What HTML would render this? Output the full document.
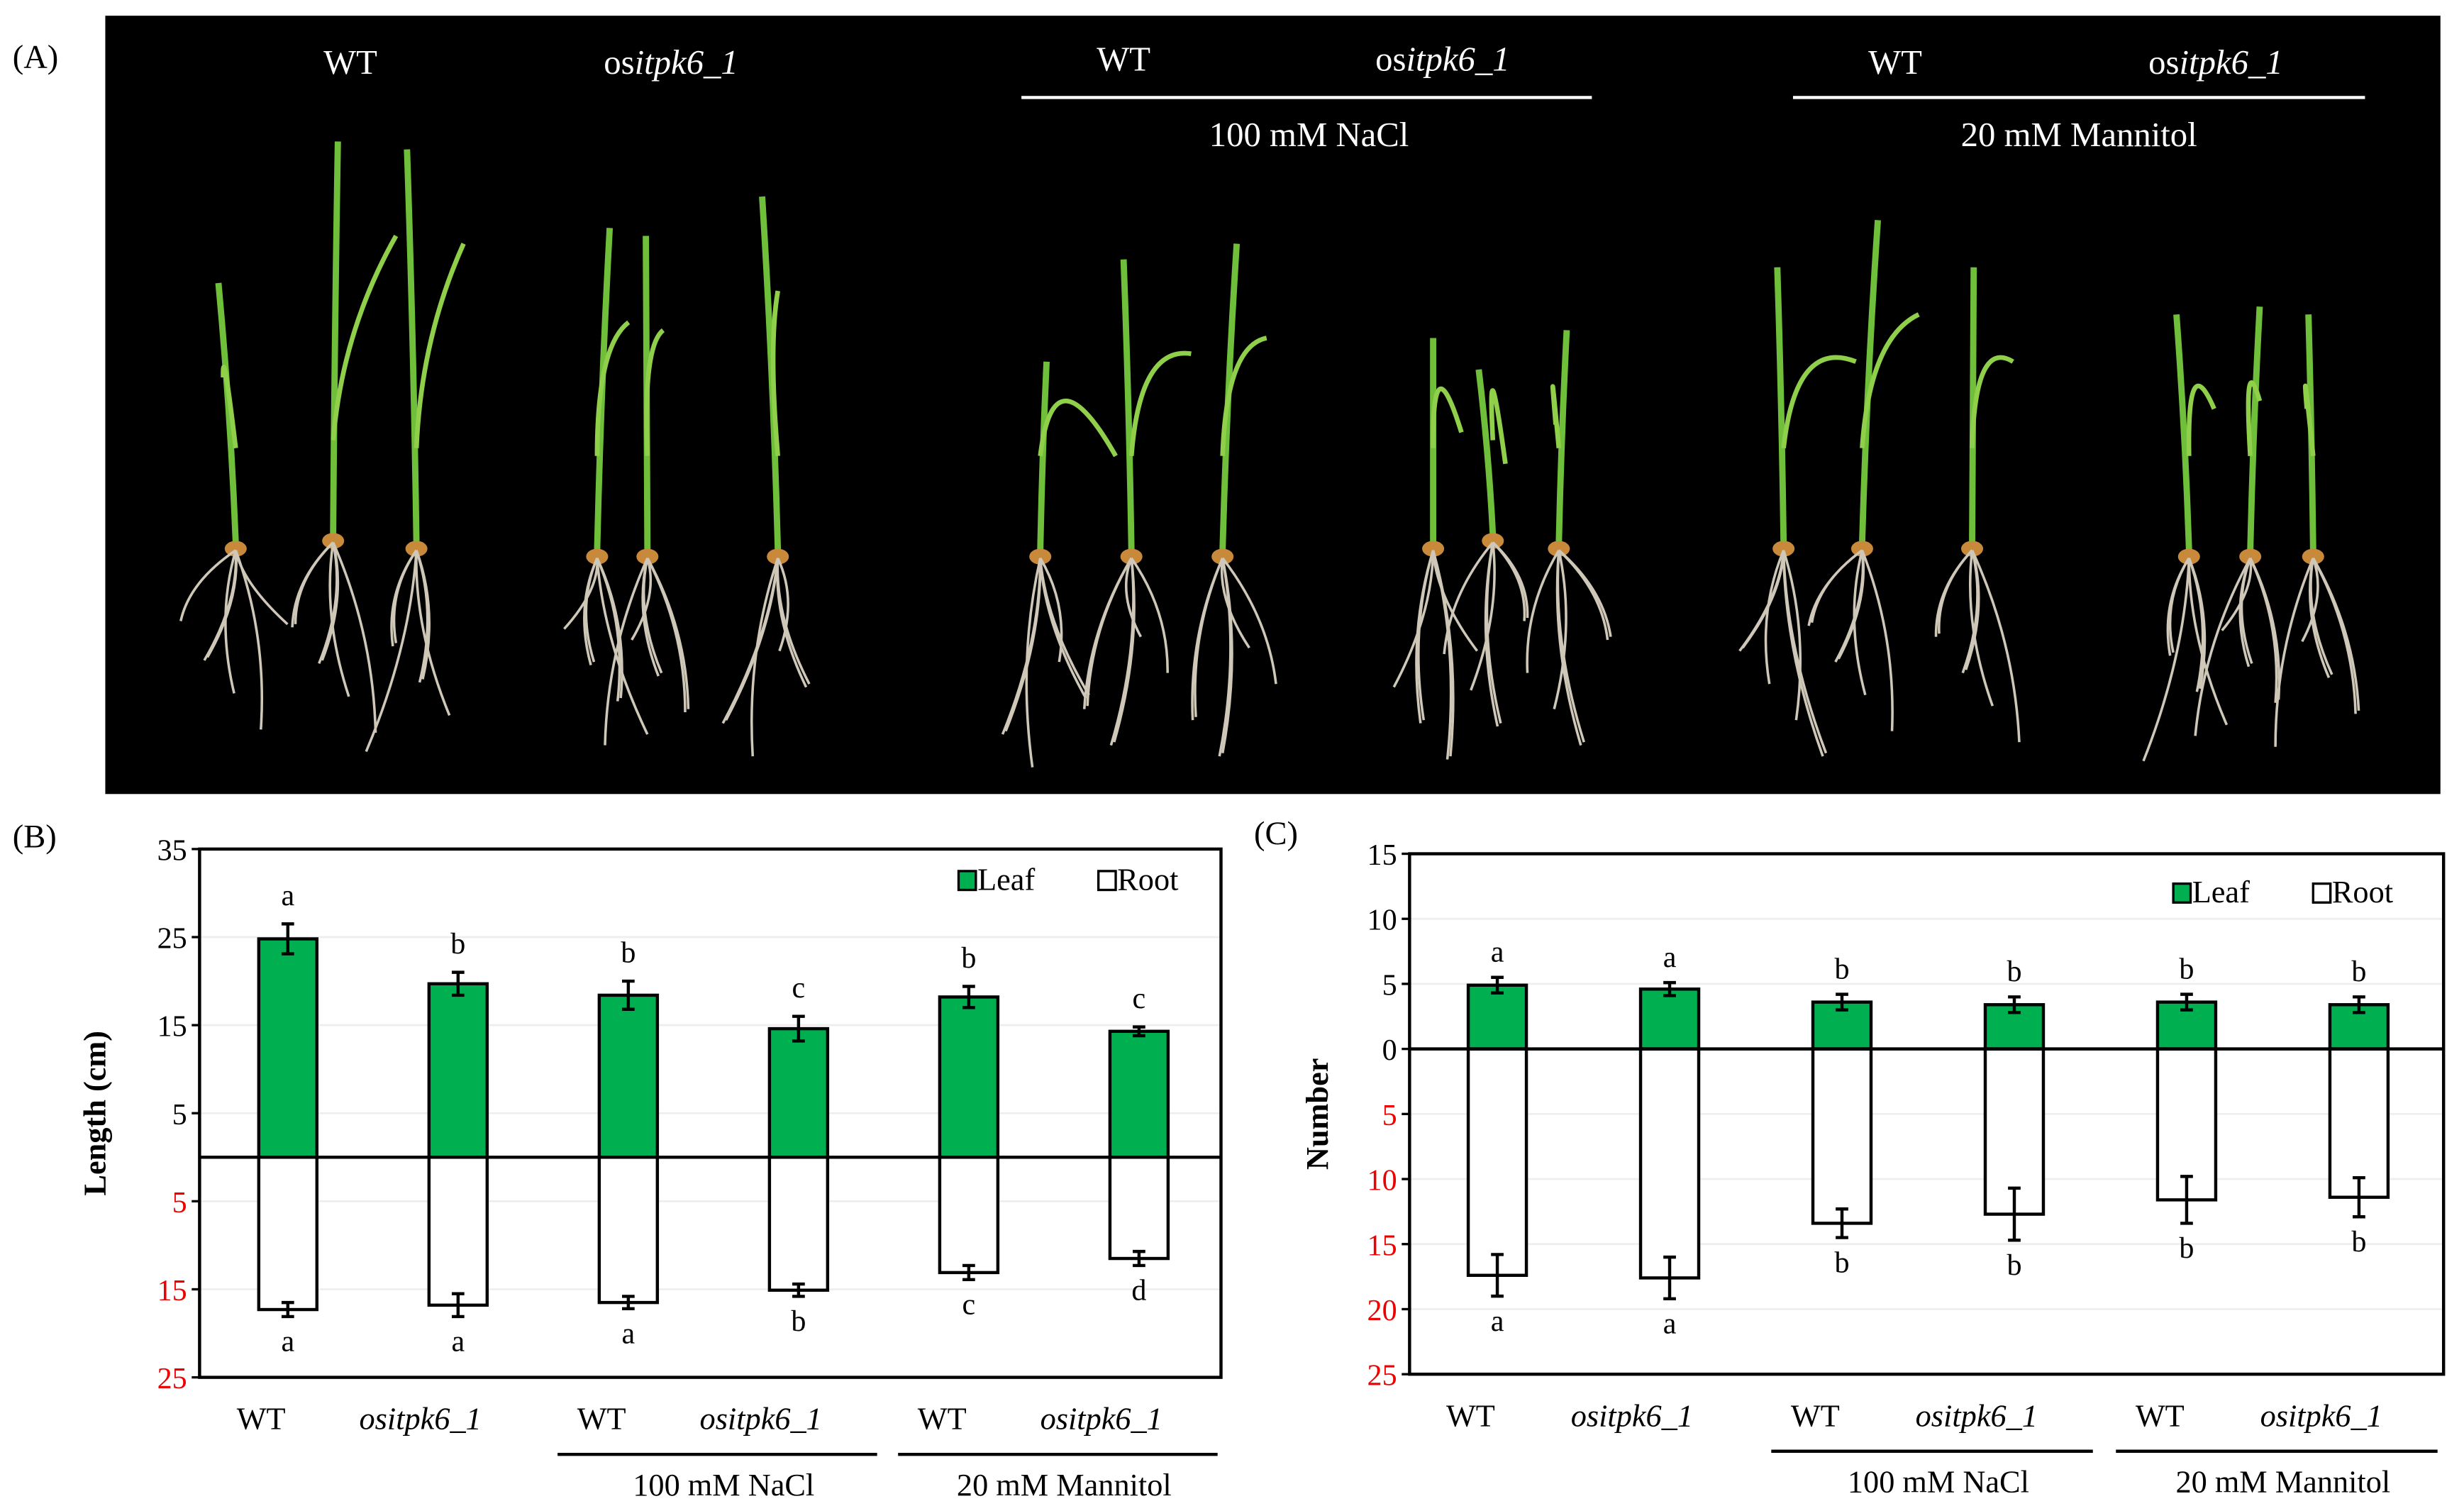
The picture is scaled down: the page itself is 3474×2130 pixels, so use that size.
<!DOCTYPE html>
<html><head><meta charset="utf-8"><style>
html,body{margin:0;padding:0;background:#fff}
svg{display:block;font-family:"Liberation Serif",serif}
svg text{font-family:"Liberation Serif",serif}
</style></head><body>
<svg id="fig" width="3474" height="2130" viewBox="0 0 1568 961" preserveAspectRatio="none" xmlns="http://www.w3.org/2000/svg" font-family="Liberation Serif, serif">
<rect width="1568" height="961" fill="#fff"/>
<g id="panelA">
<text x="8" y="43" font-size="21">(A)</text>
<rect x="67" y="10" width="1486" height="495" fill="#000"/>
<g id="plants"></g>
<g fill="#fff" font-size="22" text-anchor="middle">
<text x="223" y="47">WT</text>
<text x="427" y="47">os<tspan font-style="italic">itpk6_1</tspan></text>
<text x="715" y="45">WT</text>
<text x="918" y="45">os<tspan font-style="italic">itpk6_1</tspan></text>
<text x="833" y="93">100 mM NaCl</text>
<text x="1206" y="47">WT</text>
<text x="1410" y="47">os<tspan font-style="italic">itpk6_1</tspan></text>
<text x="1323" y="93">20 mM Mannitol</text>
</g>
<line x1="650" y1="62" x2="1013" y2="62" stroke="#fff" stroke-width="2"/>
<line x1="1141" y1="62" x2="1505" y2="62" stroke="#fff" stroke-width="2"/>
</g>
<g id="chartB"></g>
<g id="chartC"></g>
</svg>
<script>
// ---- Panel B data (Length, cm) ----
const categoriesB = ["WT","ositpk6_1","WT","ositpk6_1","WT","ositpk6_1"];
const leafB = [24.8, 19.7, 18.4, 14.6, 18.2, 14.3];
const leafErrB = [1.7, 1.3, 1.6, 1.4, 1.2, 0.5];
const rootB = [17.3, 16.8, 16.5, 15.1, 13.1, 11.5];
const rootErrB = [0.8, 1.3, 0.7, 0.7, 0.8, 0.8];
const leafLetB = ["a","b","b","c","b","c"];
const rootLetB = ["a","a","a","b","c","d"];
const ticksUpB = [35, 25, 15, 5];
const ticksDownB = [5, 15, 25];
// ---- Panel C data (Number) ----
const categoriesC = ["WT","ositpk6_1","WT","ositpk6_1","WT","ositpk6_1"];
const leafC = [4.9, 4.6, 3.6, 3.4, 3.6, 3.4];
const leafErrC = [0.6, 0.5, 0.6, 0.6, 0.6, 0.6];
const rootC = [17.4, 17.6, 13.4, 12.7, 11.6, 11.4];
const rootErrC = [1.6, 1.6, 1.1, 2.0, 1.8, 1.5];
const leafLetC = ["a","a","b","b","b","b"];
const rootLetC = ["a","a","b","b","b","b"];
const ticksUpC = [15, 10, 5, 0];
const ticksDownC = [5, 10, 15, 20, 25];
const groupsLabels = ["100 mM NaCl","20 mM Mannitol"];

const NS="http://www.w3.org/2000/svg";
function mk(tag, attrs, parent){const e=document.createElementNS(NS,tag);for(const k in attrs)e.setAttribute(k,attrs[k]);parent.appendChild(e);return e;}

function drawChart(g, cfg){
  const {x0,x1,yTop,yBot,vTop,vBot,cats,leaf,leafErr,root,rootErr,leafLet,rootLet,tUp,tDown,ylabel,ylabX,panel,panelX,panelY,legX,legY,letGapTop,letGapBot} = cfg;
  const y = v => yTop + (vTop - v)/(vTop + vBot)*(yBot-yTop);
  const n = cats.length, step=(x1-x0)/n;
  const xc = i => x0 + step*(i+0.5) + cfg.xoff;
  const bw = 37;
  let t=mk('text',{x:panelX,y:panelY,'font-size':21},g);t.textContent=panel;
  
  
  tUp.concat(tDown.map(v=>-v)).forEach(v=>{
    const l=mk('line',{x1:x0,x2:x1,y1:y(v),y2:y(v),stroke:'#eee','stroke-width':1.2},g);
    
    
  });
  tUp.forEach(v=>{const tt=mk('text',{x:x0-8,y:y(v)+7,'font-size':19,'text-anchor':'end',fill:'#000'},g);tt.textContent=v;
    
    
    mk('line',{x1:x0-5,x2:x0,y1:y(v),y2:y(v),stroke:'#000','stroke-width':1.5},g);});
  tDown.forEach(v=>{const tt=mk('text',{x:x0-8,y:y(-v)+7,'font-size':19,'text-anchor':'end',fill:'#e00'},g);tt.textContent=v;
    
    
    mk('line',{x1:x0-5,x2:x0,y1:y(-v),y2:y(-v),stroke:'#000','stroke-width':1.5},g);});
  const yl=mk('text',{x:ylabX,y:(yTop+yBot)/2,'font-size':20,'font-weight':'bold','text-anchor':'middle',transform:`rotate(-90 ${ylabX} ${(yTop+yBot)/2})`},g);
  yl.textContent=ylabel;
  
  
  for(let i=0;i<n;i++){
    const cx=xc(i);
    const lb=mk('rect',{x:cx-bw/2,y:y(leaf[i]),width:bw,height:y(0)-y(leaf[i]),fill:'#00b050',stroke:'#000','stroke-width':2},g);
    
    
    const rb=mk('rect',{x:cx-bw/2,y:y(0),width:bw,height:y(-root[i])-y(0),fill:'#fff',stroke:'#000','stroke-width':2},g);
    
    
    [[leaf[i],leafErr[i]],[-root[i],rootErr[i]]].forEach(([v,e])=>{
      const eg=mk('g',{stroke:'#000','stroke-width':2},g);
      
      
      mk('line',{x1:cx,x2:cx,y1:y(v+e),y2:y(v-e)},eg);
      mk('line',{x1:cx-4,x2:cx+4,y1:y(v+e),y2:y(v+e)},eg);
      mk('line',{x1:cx-4,x2:cx+4,y1:y(v-e),y2:y(v-e)},eg);
    });
    const lt=mk('text',{x:cx,y:y(leaf[i]+leafErr[i])-letGapTop,'font-size':19,'text-anchor':'middle'},g);lt.textContent=leafLet[i];
    
    
    const rt=mk('text',{x:cx,y:y(-root[i]-rootErr[i])+letGapBot,'font-size':19,'text-anchor':'middle'},g);rt.textContent=rootLet[i];
    
    
    const xl=mk('text',{x:cx-17,y:yBot+33,'font-size':20,'text-anchor':'middle'},g);
    xl.textContent=cats[i];
    if(cats[i]!=="WT"){xl.setAttribute('font-style','italic');xl.setAttribute('x',cx-24);}
    
    
  }
  const z=mk('line',{x1:x0,x2:x1,y1:y(0),y2:y(0),stroke:'#000','stroke-width':2},g);
  
  
  const fr=mk('rect',{x:x0,y:yTop,width:x1-x0,height:yBot-yTop,fill:'none',stroke:'#000','stroke-width':2},g);
  
  
  [[2,3],[4,5]].forEach((p,k)=>{
    const a=xc(p[0])-45, b=xc(p[1])+50;
    const bl=mk('line',{x1:a,x2:b,y1:yBot+49,y2:yBot+49,stroke:'#000','stroke-width':2},g);
    
    
    const gt=mk('text',{x:(a+b)/2+4,y:yBot+75,'font-size':20,'text-anchor':'middle'},g);gt.textContent=groupsLabels[k];
    
    
  });
  const lg=mk('g',{},g);
  
  
  mk('rect',{x:legX,y:legY-12,width:11,height:12,fill:'#00b050',stroke:'#000','stroke-width':1.5},lg);
  let tx=mk('text',{x:legX+12,y:legY,'font-size':20},lg);tx.textContent='Leaf';
  mk('rect',{x:legX+89,y:legY-12,width:11,height:12,fill:'#fff',stroke:'#000','stroke-width':1.5},lg);
  tx=mk('text',{x:legX+101,y:legY,'font-size':20},lg);tx.textContent='Root';
}
drawChart(document.getElementById('chartB'),{x0:127,x1:777,yTop:540,yBot:876,vTop:35,vBot:25,xoff:2,cats:categoriesB,leaf:leafB,leafErr:leafErrB,root:rootB,rootErr:rootErrB,leafLet:leafLetB,rootLet:rootLetB,tUp:ticksUpB,tDown:ticksDownB,ylabel:'Length (cm)',ylabX:67,panel:'(B)',panelX:8,panelY:539,legX:610,legY:566,letGapTop:12,letGapBot:22});
drawChart(document.getElementById('chartC'),{x0:897,x1:1555,yTop:543,yBot:874,vTop:15,vBot:25,xoff:1,cats:categoriesC,leaf:leafC,leafErr:leafErrC,root:rootC,rootErr:rootErrC,leafLet:leafLetC,rootLet:rootLetC,tUp:ticksUpC,tDown:ticksDownC,ylabel:'Number',ylabX:845,panel:'(C)',panelX:798,panelY:537,legX:1383,legY:574,letGapTop:10,letGapBot:22});

const plants=[[150,345,180],[212,340,90],[265,345,95],[380,350,145],[412,350,150],[495,350,125],
[662,350,230],[720,350,165],[778,350,155],[912,345,215],[950,340,235],[992,345,210],
[1135,345,170],[1185,345,140],[1255,345,170],[1393,350,200],[1432,350,195],[1472,350,200]];
const pg=document.getElementById('plants');
plants.forEach(([bx,by,tip],i)=>{
  const pl=mk('g',{},pg);
  
  
  const d1=((i*37)%23)-11, d2=((i*53)%29)-14;
  mk('path',{d:`M${bx} ${by} Q${bx+d1*0.3} ${(by+tip)/2} ${bx+d1} ${tip}`,stroke:'#6fbf3a','stroke-width':4,fill:'none'},pl);
  mk('path',{d:`M${bx} ${by-60} Q${bx+d2*0.6} ${by-130} ${bx+d2*2+20} ${tip+60}`,stroke:'#8fcf4a','stroke-width':3,fill:'none'},pl);
  mk('ellipse',{cx:bx,cy:by+4,rx:7,ry:5,fill:'#c9893a'},pl);
  for(let r=0;r<6;r++){
    const ex=bx+((r*17+i*11)%70)-35, ey=by+50+((r*23+i*7)%90);
    mk('path',{d:`M${bx} ${by+5} Q${(bx+ex)/2+((r%2)?12:-12)} ${(by+ey)/2} ${ex} ${ey}`,stroke:'#cfc8b8','stroke-width':1.6,fill:'none'},pl);
  }
});
</script>
</body></html>
